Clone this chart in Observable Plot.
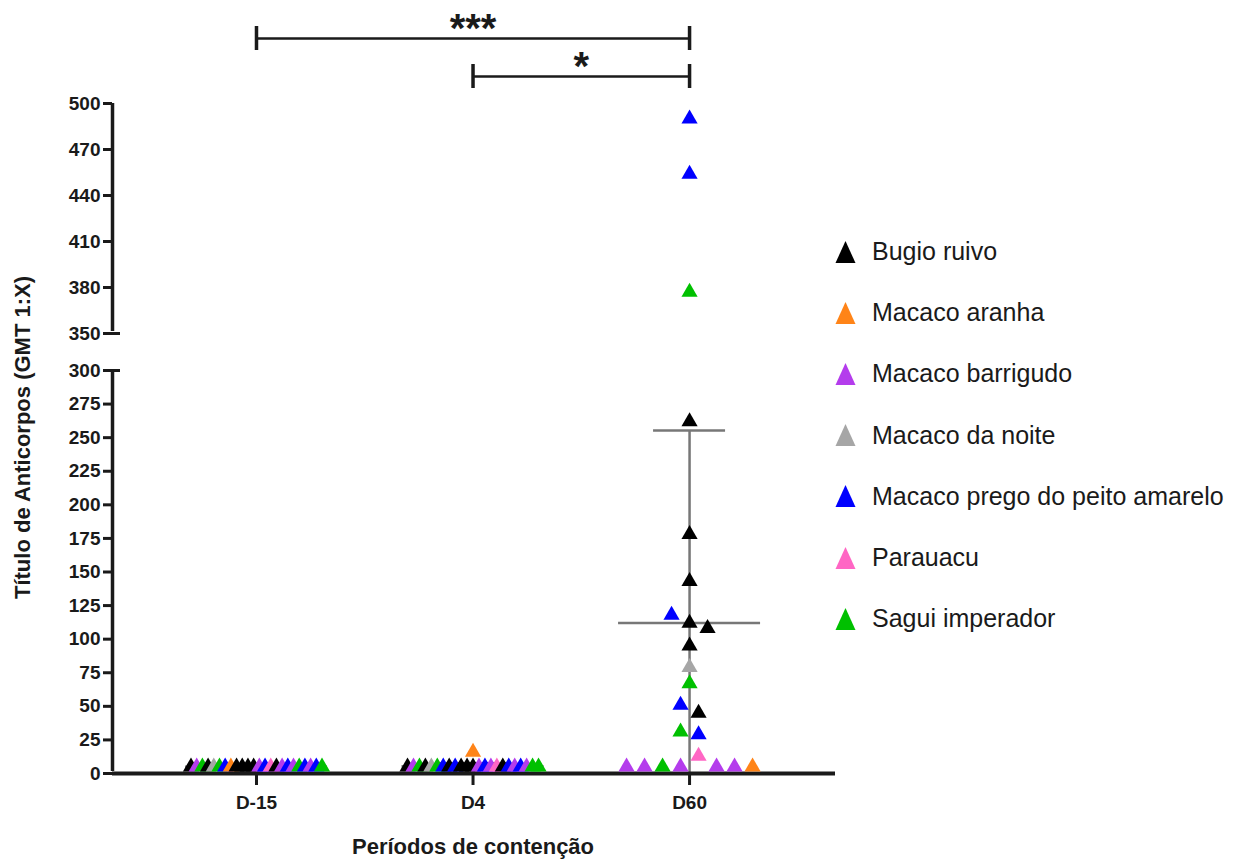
<!DOCTYPE html>
<html>
<head>
<meta charset="utf-8">
<script src="https://cdn.jsdelivr.net/npm/d3@7"></script>
<script src="https://cdn.jsdelivr.net/npm/@observablehq/plot@0.6"></script>
<style>
  body { margin: 0; background: #fff; font-family: "Liberation Sans", Arial, sans-serif; }
  #wrap { position: relative; width: 1248px; height: 860px; background: #fff; }
  #chart { position: absolute; left: 0; top: 0; }
  #legend { position: absolute; left: 0; top: 0; }
  .item { position: absolute; display: flex; align-items: center; white-space: nowrap;
          font-size: 25px; color: #1a1a1a; line-height: 1; }
  .item svg { margin-right: 16px; }
</style>
</head>
<body>
<div id="wrap"><div id="chart"></div><div id="legend"></div></div>
<script>
// ---------------- data ----------------
const periods = ["D-15", "D4", "D60"];
const species = ["Bugio ruivo", "Macaco aranha", "Macaco barrigudo", "Macaco da noite",
                 "Macaco prego do peito amarelo", "Parauacu", "Sagui imperador"];
const speciesColors = ["#000000", "#ff8418", "#b43cec", "#a6a6a6", "#0000ff", "#ff66c4", "#00c000"];
const codes = {BR: species[0], MA: species[1], MB: species[2], MN: species[3], MP: species[4], PA: species[5], SI: species[6]};

const d15Species = ["BR","MB","SI","BR","MN","SI","MP","MA","BR","BR","BR","BR","MB","MP","PA","BR","MB","MP","MB","SI","MP","MB","MP","SI"];
const d15Values  = [5,5,5,5,5,5,5,5,5,5,5,5,5,5,5,5,5,5,5,5,5,5,5,5];

const d4Species = ["BR","MB","SI","BR","MN","SI","MP","BR","MP","BR","BR","BR","MB","MP","MB","PA","BR","MP","MB","MP","MB","SI","SI","MA"];
const d4Values  = [5,5,5,5,5,5,5,5,5,5,5,5,5,5,5,5,5,5,5,5,5,5,5,16];

const d60Species = ["MP","MP","SI","BR","BR","BR","MP","BR","BR","BR","MN","SI","MP","BR","SI","MP","MB","MB","SI","MB","PA","MB","MB","MA"];
const d60Values  = [490,454,377,262,178,143,118,112,108,95,79,67,51,45,31,29,5,5,5,5,13,5,5,5];

const yTicksLower = [0,25,50,75,100,125,150,175,200,225,250,275,300];
const yTicksUpper = [350,380,410,440,470,500];

const comparisons = [
  {from: "D-15", to: "D60", label: "***"},
  {from: "D4",   to: "D60", label: "*"}
];

const yLabel = "Título de Anticorpos (GMT 1:X)";
const xLabel = "Períodos de contenção";

// ---------------- layout constants ----------------
const X_MIN = -0.665, X_MAX = 2.674;
const X_RANGE = [112, 835];
const PX_PER_UNIT = (X_RANGE[1] - X_RANGE[0]) / (X_MAX - X_MIN);
const MAX_STEP = 18, MAX_SPAN = 131, BIN = 10;
const BRACKET_TOP = 542.4, BRACKET_GAP = 24.8;
const ink = "#1a1a1a", errColor = "#777777";

// broken axis: lower segment 0–300, upper segment 350–500 drawn at a larger scale
const Y_BOTTOM = 773, Y_TOP = 34;
const brk = d3.scaleLinear()
  .domain([0, 300, 350, 500, 545])
  .range([0, 300, 327.54, 498.76, 550.12]);
const brokenY = v => brk(v);

// scatter-dot arrangement: points in the same value bin are spread symmetrically
function layout(pi, sp, vals) {
  const pts = vals.map((v, k) => ({period: periods[pi], pi, species: codes[sp[k]], value: v, k}));
  const sorted = [...pts].sort((a, b) => a.value - b.value || a.k - b.k);
  const bins = [];
  for (const p of sorted) {
    const last = bins[bins.length - 1];
    if (last && p.value - last.start <= BIN) last.items.push(p);
    else bins.push({start: p.value, items: [p]});
  }
  for (const b of bins) {
    b.items.sort((a, c) => a.k - c.k);
    const n = b.items.length;
    const step = n > 1 ? Math.min(MAX_STEP, MAX_SPAN / (n - 1)) : 0;
    b.items.forEach((p, j) => { p.x = pi + ((j - (n - 1) / 2) * step) / PX_PER_UNIT; });
  }
  return pts;
}

const groups = [[d15Species, d15Values], [d4Species, d4Values], [d60Species, d60Values]];
const points = groups.flatMap(([s, v], i) => layout(i, s, v));

const stats = groups.map(([, v], i) => {
  const m = d3.mean(v), s = d3.deviation(v);
  return {i, mean: m, lo: Math.max(0, m - s), hi: m + s, loVisible: m - s >= 0};
});

const yTicks = [...yTicksLower, ...yTicksUpper];
const axisSegments = [
  {from: d3.min(yTicksLower), to: d3.max(yTicksLower)},
  {from: d3.min(yTicksUpper), to: d3.max(yTicksUpper)}
];
const breakEnds = [d3.max(yTicksLower), d3.min(yTicksUpper)];

const brackets = comparisons.map((c, k) => ({
  x1: periods.indexOf(c.from), x2: periods.indexOf(c.to),
  level: BRACKET_TOP - k * BRACKET_GAP, label: c.label
}));
const bracketEnds = brackets.flatMap(b => [{x: b.x1, y: b.level}, {x: b.x2, y: b.level}]);

const chart = Plot.plot({
  width: 850,
  height: 860,
  margin: 0,
  x: {domain: [X_MIN, X_MAX], range: X_RANGE, axis: null},
  y: {transform: brokenY, domain: [0, brk(545)], range: [Y_BOTTOM, Y_TOP], axis: null},
  color: {domain: species, range: speciesColors},
  style: {fontFamily: "'Liberation Sans', Arial, sans-serif", color: ink, background: "white", overflow: "visible"},
  marks: [
    // mean ± SD
    Plot.ruleX(stats, {x: "i", y1: "lo", y2: "hi", stroke: errColor, strokeWidth: 2.5}),
    Plot.ruleY(stats, {y: "mean", x1: "i", x2: "i", insetLeft: -71, insetRight: -71, stroke: errColor, strokeWidth: 2.5}),
    Plot.ruleY(stats, {y: "hi", x1: "i", x2: "i", insetLeft: -36, insetRight: -36, stroke: errColor, strokeWidth: 2.5}),
    Plot.ruleY(stats.filter(d => d.loVisible), {y: "lo", x1: "i", x2: "i", insetLeft: -36, insetRight: -36, stroke: errColor, strokeWidth: 2.5}),

    // axes
    Plot.ruleY([0], {x1: X_MIN, x2: X_MAX, stroke: ink, strokeWidth: 4}),
    Plot.ruleX(axisSegments, {x: X_MIN, y1: "from", y2: "to", insetTop: -2, stroke: ink, strokeWidth: 3.5}),
    Plot.ruleY(yTicks, {y: d => d, x1: X_MIN, x2: X_MIN, insetLeft: -9, stroke: ink, strokeWidth: 3}),
    Plot.ruleY(breakEnds, {y: d => d, x1: X_MIN, x2: X_MIN, insetLeft: -9, insetRight: -8, stroke: ink, strokeWidth: 3}),
    Plot.text(yTicks, {x: X_MIN, y: d => d, text: d => String(d), textAnchor: "end", dx: -12,
                       fontSize: 19, fontWeight: "bold", fill: ink}),
    Plot.ruleX(periods.map((d, i) => i), {x: d => d, y1: 0, y2: 0, insetBottom: -12, stroke: ink, strokeWidth: 3}),
    Plot.text(periods, {x: (d, i) => i, y: 0, text: d => d, dy: 29, fontSize: 19, fontWeight: "bold", fill: ink}),

    // axis titles
    Plot.text([yLabel], {frameAnchor: "left", text: d => d, rotate: -90, textAnchor: "middle", lineAnchor: "middle",
                         dx: 22, dy: 7, fontSize: 22, fontWeight: "bold", fill: ink}),
    Plot.text([xLabel], {x: 1, frameAnchor: "bottom", text: d => d, textAnchor: "middle", lineAnchor: "middle",
                         dy: -14, fontSize: 22, fontWeight: "bold", fill: ink}),

    // significance brackets
    Plot.ruleY(brackets, {y: "level", x1: "x1", x2: "x2", stroke: ink, strokeWidth: 2.5}),
    Plot.ruleX(bracketEnds, {x: "x", y1: "y", y2: "y", insetTop: -12, insetBottom: -12, stroke: ink, strokeWidth: 3.5}),
    Plot.text(brackets, {x: d => (d.x1 + d.x2) / 2, y: "level", text: "label", dy: -9, fontSize: 40,
                         fontWeight: "bold", fill: ink}),

    // points
    Plot.dot(points, {x: "x", y: "value", fill: "species", symbol: "triangle", r: 6, stroke: "none"})
  ]
});
document.getElementById("chart").appendChild(chart);

// legend
const legend = document.getElementById("legend");
const LEGEND_TOP = 252, LEGEND_STEP = 61.2;
species.forEach((s, i) => {
  const item = document.createElement("div");
  item.className = "item";
  item.style.left = "835px";
  item.style.top = (LEGEND_TOP + i * LEGEND_STEP - 13) + "px";
  item.innerHTML = `<svg width="21" height="24" viewBox="0 0 21 24"><polygon points="10.5,1 20.5,23 0.5,23" fill="${speciesColors[i]}"/></svg><span>${s}</span>`;
  legend.appendChild(item);
});
</script>
</body>
</html>
